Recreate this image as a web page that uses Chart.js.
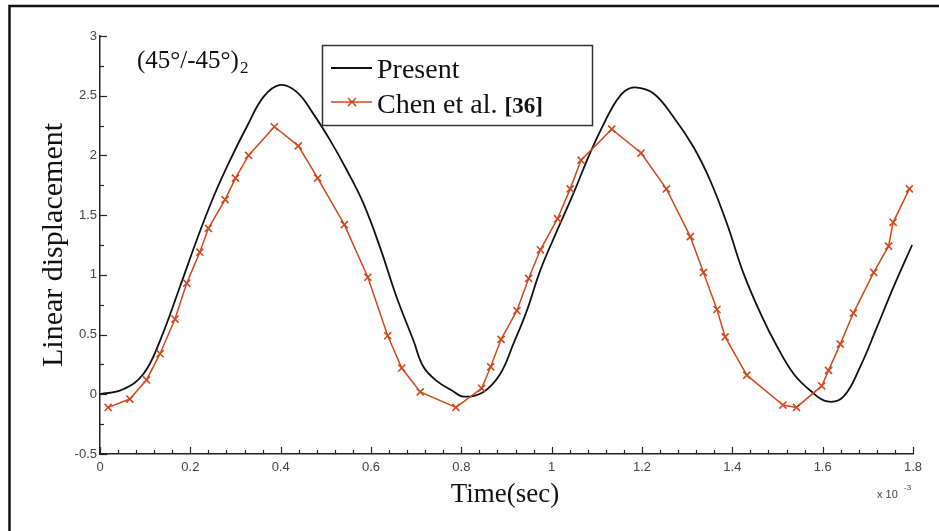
<!DOCTYPE html>
<html>
<head>
<meta charset="utf-8">
<script src="https://cdn.jsdelivr.net/npm/chart.js@4"></script>
<style>
  body { margin: 0; background: #fff; }
  #wrap { width: 939px; height: 531px; }
</style>
</head>
<body>
<div id="wrap"><canvas id="grafico" width="939" height="531"></canvas></div>
<script>
// Dados (tempo em 10^-3 s)
const presentTime = [0.0, 0.05, 0.096, 0.133, 0.177, 0.214, 0.251, 0.288, 0.325, 0.362, 0.399, 0.436, 0.472, 0.509, 0.546, 0.583, 0.620, 0.657, 0.694, 0.716, 0.746, 0.78, 0.805, 0.849, 0.886, 0.915, 0.945, 0.975, 1.012, 1.048, 1.085, 1.12, 1.142, 1.162, 1.185, 1.225, 1.270, 1.314, 1.351, 1.388, 1.425, 1.462, 1.499, 1.536, 1.573, 1.610, 1.646, 1.683, 1.720, 1.757, 1.798];
const presentDisp = [0.0, 0.04, 0.17, 0.45, 0.90, 1.29, 1.65, 1.96, 2.24, 2.49, 2.59, 2.53, 2.35, 2.13, 1.88, 1.60, 1.23, 0.81, 0.45, 0.23, 0.11, 0.03, -0.02, 0.02, 0.17, 0.42, 0.70, 1.04, 1.37, 1.68, 2.02, 2.30, 2.45, 2.54, 2.57, 2.52, 2.32, 2.07, 1.79, 1.43, 1.01, 0.68, 0.40, 0.17, 0.03, -0.06, -0.02, 0.23, 0.56, 0.90, 1.25];

const chenTime = [0.018, 0.066, 0.103, 0.133, 0.166, 0.192, 0.221, 0.240, 0.277, 0.300, 0.329, 0.386, 0.439, 0.482, 0.541, 0.593, 0.637, 0.668, 0.709, 0.788, 0.845, 0.865, 0.888, 0.923, 0.949, 0.975, 1.013, 1.041, 1.065, 1.133, 1.198, 1.254, 1.307, 1.336, 1.366, 1.384, 1.432, 1.512, 1.542, 1.598, 1.613, 1.639, 1.668, 1.713, 1.746, 1.756, 1.792];
const chenDisp = [-0.11, -0.04, 0.12, 0.34, 0.63, 0.93, 1.19, 1.39, 1.63, 1.81, 2.00, 2.24, 2.08, 1.81, 1.42, 0.98, 0.49, 0.22, 0.02, -0.11, 0.05, 0.23, 0.46, 0.70, 0.97, 1.21, 1.47, 1.72, 1.96, 2.22, 2.02, 1.72, 1.32, 1.02, 0.71, 0.48, 0.16, -0.09, -0.11, 0.07, 0.20, 0.42, 0.68, 1.02, 1.24, 1.44, 1.72];

const serieNomes = ["Present", "Chen et al."];
const xMin = 0, xMax = 1.8, xPasso = 0.2, xMenor = 0.04;
const yMin = -0.5, yMax = 3, yPasso = 0.5, yMenor = 0.25;

const vermelho = "#d0491c";

// =============================
// Plugin: ticks internos, textos, legenda
// =============================
const decoracao = {
    id: "decoracao",
    afterDraw(chart) {
        const ctx = chart.ctx;
        const xs = chart.scales.x;
        const ys = chart.scales.y;
        const area = chart.chartArea;

        ctx.save();

        // moldura (esquerda e topo)
        ctx.strokeStyle = "#111";
        ctx.lineWidth = 2.5;
        ctx.beginPath();
        ctx.moveTo(9.5, 531);
        ctx.lineTo(9.5, 6);
        ctx.lineTo(939, 6);
        ctx.stroke();

        // ticks para dentro
        ctx.strokeStyle = "#222";
        ctx.lineWidth = 1.2;
        const nx = Math.round((xMax - xMin) / xMenor);
        for (let i = 0; i <= nx; i++) {
            const px = Math.round(xs.getPixelForValue(xMin + i * xMenor)) + 0.5;
            const len = i % 5 === 0 ? 7 : 4;
            ctx.beginPath();
            ctx.moveTo(px, area.bottom);
            ctx.lineTo(px, area.bottom - len);
            ctx.stroke();
        }
        const ny = Math.round((yMax - yMin) / yMenor);
        for (let i = 0; i <= ny; i++) {
            const py = Math.round(ys.getPixelForValue(yMin + i * yMenor)) + 0.5;
            const len = i % 2 === 0 ? 7 : 4;
            ctx.beginPath();
            ctx.moveTo(area.left, py);
            ctx.lineTo(area.left + len, py);
            ctx.stroke();
        }

        ctx.fillStyle = "#111";

        // título eixo x
        ctx.font = "27px 'Liberation Serif'";
        ctx.textAlign = "center";
        ctx.textBaseline = "alphabetic";
        ctx.fillText("Time(sec)", 505, 502);

        // título eixo y
        ctx.save();
        ctx.translate(62, 245);
        ctx.rotate(-Math.PI / 2);
        ctx.font = "30px 'Liberation Serif'";
        ctx.fillText("Linear displacement", 0, 0);
        ctx.restore();

        // x 10^-3
        ctx.fillStyle = "#444";
        ctx.textAlign = "left";
        ctx.font = "11px 'Liberation Sans'";
        ctx.fillText("x 10", 877, 498);
        ctx.font = "8px 'Liberation Sans'";
        ctx.fillText("-3", 904, 490);

        // anotação do laminado
        ctx.fillStyle = "#111";
        ctx.font = "25px 'Liberation Serif'";
        ctx.fillText("(45°/-45°)", 137, 68);
        const w = ctx.measureText("(45°/-45°)").width;
        ctx.font = "17px 'Liberation Serif'";
        ctx.fillText("2", 137 + w + 1, 73);

        // legenda
        ctx.fillStyle = "#fff";
        ctx.fillRect(322.5, 45.5, 270, 80);
        ctx.strokeStyle = "#333";
        ctx.lineWidth = 1.5;
        ctx.strokeRect(322.5, 45.5, 270, 80);

        ctx.strokeStyle = "#111";
        ctx.lineWidth = 2;
        ctx.beginPath();
        ctx.moveTo(331, 68);
        ctx.lineTo(372, 68);
        ctx.stroke();

        ctx.strokeStyle = vermelho;
        ctx.lineWidth = 1.5;
        ctx.beginPath();
        ctx.moveTo(331, 102);
        ctx.lineTo(372, 102);
        ctx.moveTo(348, 98);
        ctx.lineTo(356, 106);
        ctx.moveTo(356, 98);
        ctx.lineTo(348, 106);
        ctx.stroke();

        ctx.fillStyle = "#111";
        ctx.font = "28px 'Liberation Serif'";
        ctx.fillText(serieNomes[0], 377, 78);
        ctx.fillText(serieNomes[1], 377, 113);
        const wc = ctx.measureText(serieNomes[1] + " ").width;
        ctx.font = "bold 23px 'Liberation Serif'";
        ctx.fillText("[36]", 377 + wc, 113);

        ctx.restore();
    }
};

const ctx = document.getElementById("grafico").getContext("2d");

new Chart(ctx, {
    type: "line",
    data: {
        datasets: [
            {
                label: serieNomes[0],
                data: presentTime.map((t, i) => ({ x: t, y: presentDisp[i] })),
                borderColor: "#111",
                borderWidth: 1.8,
                pointRadius: 0,
                tension: 0.4,
                order: 2
            },
            {
                label: serieNomes[1],
                data: chenTime.map((t, i) => ({ x: t, y: chenDisp[i] })),
                borderColor: vermelho,
                borderWidth: 1.5,
                tension: 0,
                pointStyle: "crossRot",
                pointRadius: 5,
                pointBorderWidth: 1.6,
                pointBorderColor: vermelho,
                order: 1
            }
        ]
    },
    options: {
        responsive: false,
        animation: false,
        layout: { padding: { left: 0, top: 36, right: 26, bottom: 0 } },
        plugins: {
            legend: { display: false },
            tooltip: { enabled: false }
        },
        scales: {
            x: {
                type: "linear",
                min: xMin,
                max: xMax,
                afterFit: s => { s.height = 77; },
                grid: { display: false, drawTicks: false },
                border: { display: true, color: "#222", width: 1.5 },
                ticks: {
                    stepSize: xPasso,
                    padding: 6,
                    color: "#444",
                    font: { family: "'Liberation Sans'", size: 13 },
                    callback: v => String(Number(v.toFixed(1)))
                }
            },
            y: {
                type: "linear",
                min: yMin,
                max: yMax,
                afterFit: s => { s.width = 100; },
                grid: { display: false, drawTicks: false },
                border: { display: true, color: "#222", width: 1.5 },
                ticks: {
                    stepSize: yPasso,
                    padding: 3,
                    color: "#444",
                    font: { family: "'Liberation Sans'", size: 13 },
                    callback: v => String(Number(v.toFixed(1)))
                }
            }
        }
    },
    plugins: [decoracao]
});
</script>
</body>
</html>
